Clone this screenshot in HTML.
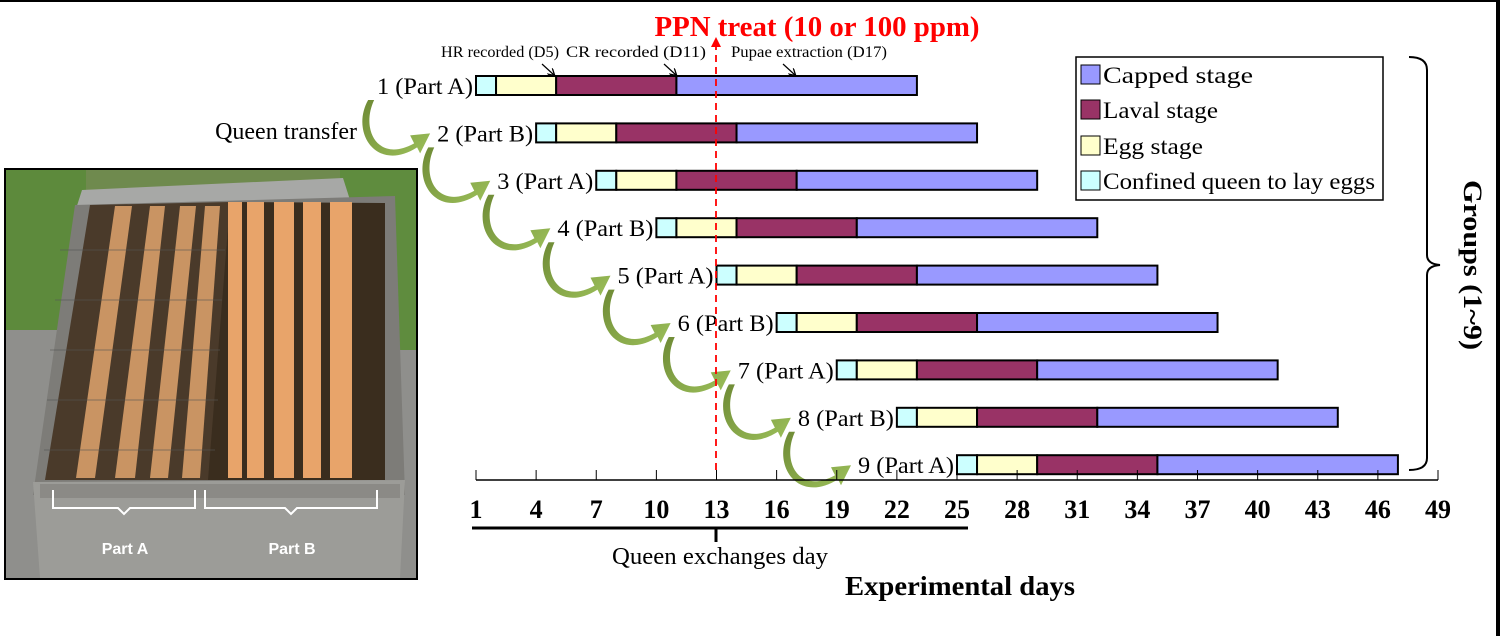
<!DOCTYPE html>
<html><head><meta charset="utf-8"><style>
body{margin:0;background:#fff;}
svg{display:block;}
text{font-family:"Liberation Serif",serif;}
</style></head><body>
<svg id="chart" width="1500" height="636" viewBox="0 0 1500 636" xmlns="http://www.w3.org/2000/svg">
<defs>
<linearGradient id="grnArrow" x1="0" y1="0" x2="1" y2="1">
<stop offset="0" stop-color="#6e8a35"/><stop offset="1" stop-color="#9cc05a"/>
</linearGradient>
<marker id="blk" markerWidth="8" markerHeight="8" refX="6" refY="4" orient="auto" markerUnits="userSpaceOnUse"><path d="M0,0 L7,4 L0,8" fill="none" stroke="#000" stroke-width="1.3"/></marker>
<marker id="red" markerWidth="10" markerHeight="10" refX="5" refY="5" orient="auto" markerUnits="userSpaceOnUse"><path d="M0,0 L10,5 L0,10 Z" fill="#f00"/></marker>
</defs>
<rect x="0" y="0" width="1500" height="2" fill="#000"/>
<rect x="1496" y="0" width="4" height="636" fill="#000"/>

<!-- Photo -->
<g id="photo">
<rect x="5" y="169" width="412" height="410" fill="#6f8a4e" stroke="#000" stroke-width="2"/>
<rect x="6" y="300" width="410" height="278" fill="#8f8f8c"/>
<rect x="6" y="170" width="80" height="160" fill="#5d8a3c"/>
<rect x="340" y="170" width="76" height="180" fill="#5f8c3e"/>
<polygon points="82,190 343,178 350,200 75,212" fill="#a7a8a6"/>
<polygon points="75,205 395,196 405,495 33,495" fill="#7d7c78"/>
<polygon points="90,205 230,202 210,480 45,480" fill="#4a3a2a"/>
<polygon points="230,202 385,203 385,480 208,480" fill="#3a2d1e"/>
<g fill="#c99463">
<polygon points="115,206 132,206 95,478 76,478"/>
<polygon points="150,206 165,206 135,478 115,478"/>
<polygon points="180,206 196,206 168,478 150,478"/>
<polygon points="205,206 220,206 200,478 182,478"/>
</g>
<g fill="#e8a46a">
<rect x="228" y="202" width="14" height="276"/>
<rect x="247" y="202" width="17" height="276"/>
<rect x="274" y="202" width="20" height="276"/>
<rect x="303" y="202" width="18" height="276"/>
<rect x="330" y="202" width="22" height="276"/>
</g>
<g stroke="#555" stroke-width="1" opacity="0.6">
<line x1="60" y1="250" x2="225" y2="250"/><line x1="55" y1="300" x2="222" y2="300"/><line x1="50" y1="350" x2="220" y2="350"/><line x1="47" y1="400" x2="218" y2="400"/><line x1="44" y1="450" x2="215" y2="450"/>
</g>
<polygon points="33,482 405,480 400,578 40,578" fill="#9c9c98"/>
<rect x="40" y="484" width="360" height="14" fill="#8b8a86"/>
<path d="M53,490 v18 h65 l6,6 l6,-6 h65 v-18" fill="none" stroke="#fff" stroke-width="2"/>
<path d="M205,490 v18 h80 l6,6 l6,-6 h80 v-18" fill="none" stroke="#fff" stroke-width="2"/>
<text x="125" y="554" font-weight="bold" font-size="16" fill="#fff" text-anchor="middle" style="font-family:'Liberation Sans',sans-serif">Part A</text>
<text x="292" y="554" font-weight="bold" font-size="16" fill="#fff" text-anchor="middle" style="font-family:'Liberation Sans',sans-serif">Part B</text>
</g>

<!-- Annotations -->
<text x="817" y="36" font-size="28" font-weight="bold" fill="#f00" text-anchor="middle" textLength="325" lengthAdjust="spacingAndGlyphs">PPN treat (10 or 100 ppm)</text>
<text x="500" y="57" font-size="16" text-anchor="middle" textLength="118" lengthAdjust="spacingAndGlyphs">HR recorded (D5)</text>
<text x="636" y="57" font-size="16" text-anchor="middle" textLength="140" lengthAdjust="spacingAndGlyphs">CR recorded (D11)</text>
<text x="809" y="57" font-size="16" text-anchor="middle" textLength="156" lengthAdjust="spacingAndGlyphs">Pupae extraction (D17)</text>
<line x1="542" y1="64" x2="554" y2="75" stroke="#000" stroke-width="1.2" marker-end="url(#blk)"/>
<line x1="664" y1="64" x2="676" y2="75" stroke="#000" stroke-width="1.2" marker-end="url(#blk)"/>
<line x1="783" y1="64" x2="795" y2="75" stroke="#000" stroke-width="1.2" marker-end="url(#blk)"/>
<text x="357" y="139" font-size="24" text-anchor="end">Queen transfer</text>

<g id="arrows"></g>
<g id="bars"></g>
<g id="axis"></g>

<!-- Legend -->
<g>
<rect x="1076" y="57" width="307" height="143" fill="#fff" stroke="#000" stroke-width="1.5"/>
<g><rect x="1081" y="65" width="19" height="19" fill="#9999ff" stroke="#000"/><text x="1103" y="83" font-size="23" textLength="150" lengthAdjust="spacingAndGlyphs">Capped stage</text></g>
<g><rect x="1081" y="100" width="19" height="19" fill="#993366" stroke="#000"/><text x="1103" y="118" font-size="23" textLength="115" lengthAdjust="spacingAndGlyphs">Laval  stage</text></g>
<g><rect x="1081" y="136" width="19" height="19" fill="#ffffcc" stroke="#000"/><text x="1103" y="154" font-size="23" textLength="100" lengthAdjust="spacingAndGlyphs">Egg  stage</text></g>
<g><rect x="1081" y="171" width="19" height="19" fill="#ccffff" stroke="#000"/><text x="1103" y="189" font-size="23" textLength="272" lengthAdjust="spacingAndGlyphs">Confined queen to lay eggs</text></g>
</g>

<!-- Brace -->
<path d="M1409,57 Q1427,57 1427,70 L1427,255 Q1427,264 1440,265 Q1427,266 1427,275 L1427,458 Q1427,470 1409,470" fill="none" stroke="#000" stroke-width="2"/>
<text transform="translate(1464,265) rotate(90)" font-size="26" font-weight="bold" text-anchor="middle" textLength="170" lengthAdjust="spacingAndGlyphs">Groups (1~9)</text>

<!-- Treatment line -->
<line x1="716" y1="470" x2="716" y2="42" stroke="#f00" stroke-width="1.8" stroke-dasharray="7,5" marker-end="url(#red)"/>

<!-- Queen exchange bracket -->
<line x1="472" y1="528" x2="968" y2="528" stroke="#000" stroke-width="3"/>
<line x1="716" y1="528" x2="716" y2="542" stroke="#000" stroke-width="3"/>
<text x="720" y="564" font-size="24" text-anchor="middle" textLength="216" lengthAdjust="spacingAndGlyphs">Queen exchanges day</text>
<text x="960" y="595" font-size="27" font-weight="bold" text-anchor="middle" textLength="230" lengthAdjust="spacingAndGlyphs">Experimental days</text>
</svg>
<script>
const groups = [1,2,3,4,5,6,7,8,9];
const parts = ["A","B","A","B","A","B","A","B","A"];
const startDays = [1,4,7,10,13,16,19,22,25];
const confinedDays = [1,1,1,1,1,1,1,1,1];
const eggDays = [3,3,3,3,3,3,3,3,3];
const larvalDays = [6,6,6,6,6,6,6,6,6];
const cappedDays = [12,12,12,12,12,12,12,12,12];
const tickLabels = [1,4,7,10,13,16,19,22,25,28,31,34,37,40,43,46,49];

const NS = "http://www.w3.org/2000/svg";
const x = d => 476 + (d - 1) * (1438 - 476) / 48;
const rowY = i => 76 + i * 47.4;
const colors = ["#ccffff","#ffffcc","#993366","#9999ff"];
const segNames = ["confined","egg","larval","capped"];
function mk(tag, attrs, parent){const e=document.createElementNS(NS,tag);for(const k in attrs)e.setAttribute(k,attrs[k]);parent.appendChild(e);return e;}

const bars = document.getElementById("bars");
const arrows = document.getElementById("arrows");
groups.forEach((g,i)=>{
  const durs=[confinedDays[i],eggDays[i],larvalDays[i],cappedDays[i]];
  let d=startDays[i];
  const y=rowY(i);
  durs.forEach((len,j)=>{
    const r=mk("rect",{x:x(d),y:y,width:x(d+len)-x(d),height:19,fill:colors[j],stroke:"#000","stroke-width":2},bars);
    
    
    d+=len;
  });
  const t=mk("text",{x:x(startDays[i])-3,y:y+18,"font-size":23,"text-anchor":"end",textLength:96,lengthAdjust:"spacingAndGlyphs"},bars);
  t.textContent=g+" (Part "+parts[i]+")";
  
  
  if(i>0){
    const lx=x(startDays[i])-100;
    const cy=y+10, py=rowY(i-1)+10;
    const sx=lx-62, sy=py+14, ex=lx-6, ey=cy+4;
    const p=mk("path",{d:`M${sx},${sy} C${sx-14},${sy+30} ${sx+4},${ey+26} ${ex-16},${ey+6} L${ex-20},${ey-2} L${ex},${ey-4} L${ex-10},${ey+16} L${ex-13},${ey+10} C${sx+2},${ey+36} ${sx-24},${sy+32} ${sx-6},${sy} Z`,fill:"url(#grnArrow)"},arrows);
    
    
  }
});

const axis=document.getElementById("axis");
const al=mk("line",{x1:x(1),y1:480,x2:x(49),y2:480,stroke:"#000","stroke-width":1.5},axis);


tickLabels.forEach(v=>{
  const tk=mk("line",{x1:x(v),y1:470,x2:x(v),y2:480,stroke:"#000","stroke-width":1},axis);
  
  
  const tl=mk("text",{x:x(v),y:518,"font-size":26,"font-weight":"bold","text-anchor":"middle"},axis);
  tl.textContent=v;
  
  
});
</script>
</body></html>
